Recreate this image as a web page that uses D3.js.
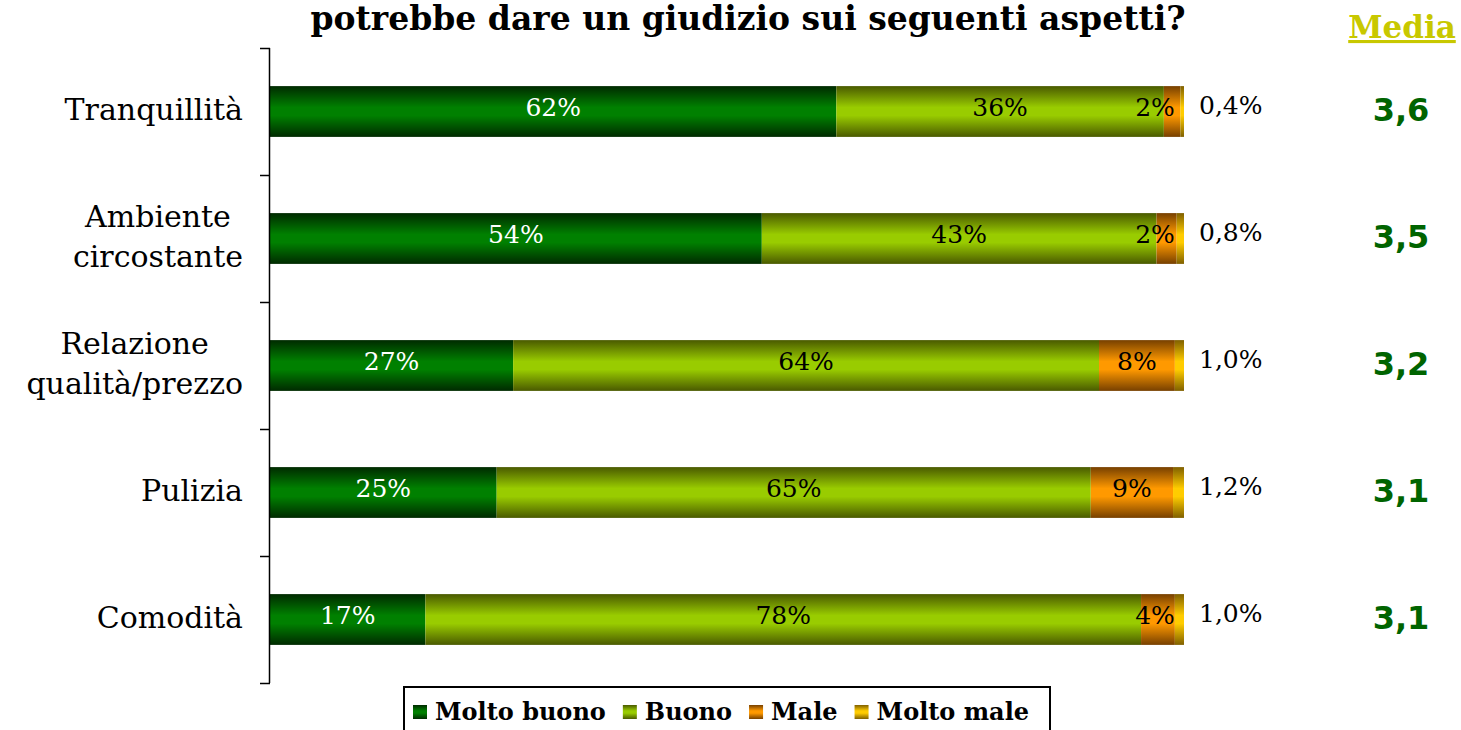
<!DOCTYPE html>
<html><head><meta charset="utf-8">
<script src="https://cdn.jsdelivr.net/npm/d3@7/dist/d3.min.js"></script>
<style>
html,body{margin:0;padding:0;background:#fff;overflow:hidden}
svg{display:block}
</style></head>
<body>
<svg id="chart" width="1461" height="730"></svg>
<script>
// ---- data ----
const categories = [["Tranquillità"], ["Ambiente", "circostante"], ["Relazione", "qualità/prezzo"], ["Pulizia"], ["Comodità"]];
const seriesNames = ["Molto buono", "Buono", "Male", "Molto male"];
const moltoBuono = [61.9, 53.7, 26.6, 24.8, 17.0];
const buono      = [35.8, 43.1, 64.1, 65.0, 78.3];
const male       = [1.8, 2.2, 8.3, 9.0, 3.7];
const moltoMale  = [0.4, 0.8, 1.0, 1.2, 1.0];
const media      = ["3,6", "3,5", "3,2", "3,1", "3,1"];
const titleText = "potrebbe dare un giudizio sui seguenti aspetti?";
const mediaHeader = "Media";

const colors = [
  {dark: "#002a00", light: "#008000"},
  {dark: "#4a5a00", light: "#99cc00"},
  {dark: "#774000", light: "#ff9900"},
  {dark: "#806000", light: "#ffcc00"}
];

const svg = d3.select("#chart");
const serif = "'DejaVu Serif', serif";
const defs = svg.append("defs");
colors.forEach((c, i) => {
  const g = defs.append("linearGradient").attr("id", "g" + i)
    .attr("x1", 0).attr("y1", 0).attr("x2", 0).attr("y2", 1);
  g.append("stop").attr("offset", "0%").attr("stop-color", c.dark);
  g.append("stop").attr("offset", "42%").attr("stop-color", c.light);
  g.append("stop").attr("offset", "58%").attr("stop-color", c.light);
  g.append("stop").attr("offset", "100%").attr("stop-color", c.dark);
});

const rows = categories.map((c, i) => ({
  idx: i, "Molto buono": moltoBuono[i], "Buono": buono[i], "Male": male[i], "Molto male": moltoMale[i]
}));
const stack = d3.stack().keys(seriesNames).offset(d3.stackOffsetExpand);
const stacked = stack(rows);

const x = d3.scaleLinear().domain([0, 1]).range([270, 1184]);
const y = d3.scaleBand().domain(d3.range(categories.length)).range([48, 683]).paddingInner(0.6).paddingOuter(0.3);

// title
svg.append("text").attr("x", 748).attr("y", 30).attr("text-anchor", "middle")
  .attr("font-family", serif).attr("font-weight", "bold").attr("font-size", 33)
  .text(titleText);

// Media header
svg.append("text").attr("x", 1402).attr("y", 38).attr("text-anchor", "middle")
  .attr("font-family", serif).attr("font-weight", "bold").attr("font-size", 31)
  .attr("fill", "#c8c800").attr("text-decoration", "underline").text(mediaHeader);

// bars
const layers = svg.append("g").selectAll("g").data(stacked).join("g")
  .attr("fill", (d, i) => `url(#g${i})`);
layers.selectAll("rect").data(d => d).join("rect")
  .attr("x", d => x(d[0])).attr("width", d => x(d[1]) - x(d[0]))
  .attr("y", (d, i) => y(i)).attr("height", y.bandwidth());

// inner labels
const fmtPct = v => Math.round(v) + "%";
const fmtDec = v => d3.format(".1f")(v).replace(".", ",") + "%";
stacked.forEach((layer, si) => {
  if (si === 3) return;
  layer.forEach((d, i) => {
    const val = [moltoBuono, buono, male][si][i];
    let cx = (x(d[0]) + x(d[1])) / 2;
    const t = svg.append("text").attr("y", y(i) + y.bandwidth() / 2 - 2)
      .attr("dominant-baseline", "middle").attr("text-anchor", "middle")
      .attr("font-family", serif).attr("font-size", 25)
      .attr("fill", si === 0 ? "#fff" : "#000").text(fmtPct(val));
    const w = t.node().getComputedTextLength();
    if (cx + w / 2 > x(0.99)) cx = x(0.99) - w / 2;
    t.attr("x", cx);
  });
});
// outside labels (Molto male)
moltoMale.forEach((v, i) => {
  svg.append("text").attr("x", x(1) + 15).attr("y", y(i) + y.bandwidth() / 2 - 4)
    .attr("dominant-baseline", "middle")
    .attr("font-family", serif).attr("font-size", 25).attr("fill", "#000").text(fmtDec(v));
});

// media values
media.forEach((m, i) => {
  svg.append("text").attr("x", 1401).attr("y", y(i) + y.bandwidth() / 2)
    .attr("dominant-baseline", "middle").attr("text-anchor", "middle")
    .attr("font-family", "'DejaVu Sans', sans-serif").attr("font-weight", "bold").attr("font-size", 32)
    .attr("fill", "#006400").text(m);
});

// axis
const axisG = svg.append("g");
axisG.append("line").attr("x1", 269.5).attr("x2", 269.5).attr("y1", 48).attr("y2", 683)
  .attr("stroke", "#000").attr("stroke-width", 1.5);
d3.range(categories.length + 1).forEach(k => {
  const yy = Math.round(48 + k * (635 / categories.length)) + 0.5;
  axisG.append("line").attr("x1", 260).attr("x2", 270).attr("y1", yy).attr("y2", yy)
    .attr("stroke", "#000").attr("stroke-width", 1.5);
});

// category labels
categories.forEach((lines, i) => {
  const cy = y(i) + y.bandwidth() / 2;
  const lh = 40;
  const g = svg.append("g");
  const texts = lines.map((l, j) => g.append("text")
    .attr("y", cy + (j - (lines.length - 1) / 2) * lh)
    .attr("dominant-baseline", "middle").attr("text-anchor", "middle")
    .attr("font-family", serif).attr("font-size", 30).attr("fill", "#000").text(l));
  const maxW = d3.max(texts, t => t.node().getComputedTextLength());
  texts.forEach(t => t.attr("x", 243 - maxW / 2));
});

// legend
const lg = svg.append("g");
lg.append("rect").attr("x", 404).attr("y", 687).attr("width", 646).attr("height", 60)
  .attr("fill", "#fff").attr("stroke", "#000").attr("stroke-width", 2);
let lx = 413;
seriesNames.forEach((n, i) => {
  lg.append("rect").attr("x", lx).attr("y", 705).attr("width", 14).attr("height", 14)
    .attr("fill", `url(#g${i})`);
  const t = lg.append("text").attr("x", lx + 22).attr("y", 720)
    .attr("font-family", serif).attr("font-weight", "bold").attr("font-size", 24).text(n);
  lx += 22 + t.node().getComputedTextLength() + 17;
});
</script>
</body></html>
